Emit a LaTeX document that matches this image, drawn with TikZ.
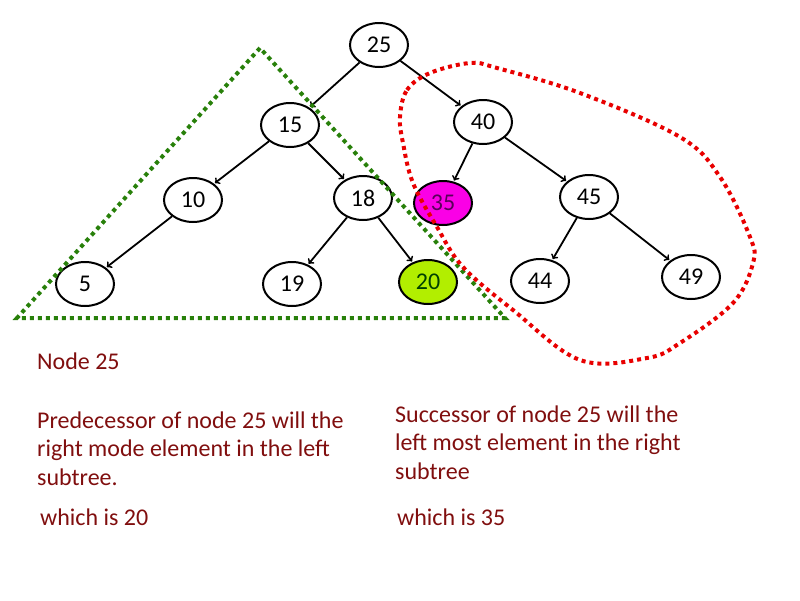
\documentclass[tikz,border=0pt]{standalone}
\usepackage{fontspec}
\setmainfont{Carlito}
\usetikzlibrary{shapes.geometric, positioning}
\definecolor{notered}{RGB}{128,14,14}
\definecolor{dotgreen}{RGB}{40,128,10}
\definecolor{dotred}{RGB}{232,0,0}
\definecolor{limefill}{RGB}{178,238,0}
\definecolor{pinkfill}{RGB}{250,0,230}

\begin{document}
\begin{tikzpicture}
	% style
	[x=1pt, y=-1pt, on grid,
	plain/.style={ellipse, draw=black, fill=white, line width=2pt, inner sep=0pt, minimum width=58pt, minimum height=44pt, font=\fontsize{24}{28}\selectfont},
	pred/.style={plain, fill=limefill, text=green!25!black},
	succ/.style={plain, fill=pinkfill, text=violet!70!black},
	link/.style={->, line width=1.8pt, shorten >=1pt},
	left_tree/.style={draw=dotgreen, line width=4pt, dash pattern=on 4pt off 4pt},
	right_tree/.style={draw=dotred, line width=4pt, dash pattern=on 4pt off 4pt},
	note/.style={text=notered, inner sep=0pt, align=left, font=\fontsize{24}{28.5}\selectfont}]
	\useasboundingbox (0,0) rectangle (800,600);

	% root and level 1
	\node [plain] (v_25) at (379,45) {25};
	\node [plain] (v_15) [below left=80pt and 89pt of v_25] {15};
	\node [plain] (v_40) [below right=77pt and 104pt of v_25] {40};

	% level 2
	\node [plain] (v_10) [below left=75pt and 97pt of v_15] {10};
	\node [plain] (v_18) [below right=73pt and 73pt of v_15] {18};
	\node [succ] (v_35) [below left=81pt and 40pt of v_40] {35};
	\node [plain] (v_45) [below right=75pt and 106pt of v_40] {45};

	% level 3
	\node [plain] (v_5) [below left=84pt and 108pt of v_10] {5};
	\node [plain] (v_19) [below left=86pt and 71pt of v_18] {19};
	\node [pred] (v_20) [below right=84pt and 65pt of v_18] {20};
	\node [plain] (v_44) [below left=84pt and 49pt of v_45] {44};
	\node [plain] (v_49) [below right=80pt and 102pt of v_45] {49};

	\path[link] (v_25) edge (v_15)
	            (v_25) edge (v_40)
	            (v_15) edge (v_10)
	            (v_15) edge (v_18)
	            (v_10) edge (v_5)
	            (v_18) edge (v_19)
	            (v_18) edge (v_20)
	            (v_40) edge (v_35)
	            (v_40) edge (v_45)
	            (v_45) edge (v_44)
	            (v_45) edge (v_49);

	% subtrees
	\draw [left_tree] (260,48) -- (17,318) -- (505,318) -- cycle;
	\draw [right_tree] plot [smooth cycle, tension=0.6] coordinates {
		(400,117) (407,90) (430,73) (470,63) (497,68) (580,93) (680,137)
		(720,177) (750,237) (753,263) (733,303) (680,343) (647,358) (580,360)
		(513,310) (463,267) (437,227) (413,183) (403,143)};

	% notes
	\node [note, anchor=base west] (t_node) at (37,369) {Node 25};
	\node [note, anchor=base west] (t_pred) at (37,485) {Predecessor of node 25 will the\\right mode element in the left\\subtree.};
	\node [note, anchor=base west] (t_pred_val) at (40,525) {which is 20};
	\node [note, anchor=base west] (t_succ) at (395,479) {Successor of node 25 will the\\left most element in the right\\subtree};
	\node [note, anchor=base west] (t_succ_val) at (397,525) {which is 35};
\end{tikzpicture}
\end{document}
